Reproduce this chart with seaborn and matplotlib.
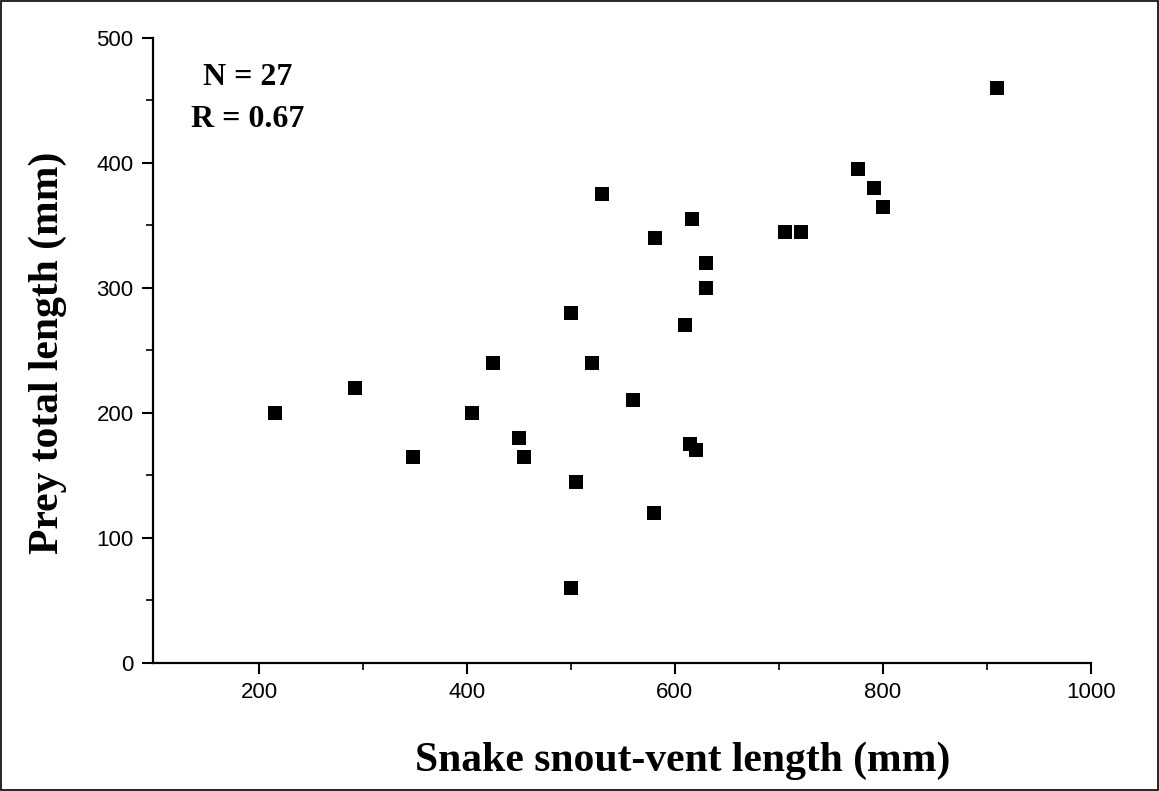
import pandas as pd
import matplotlib.pyplot as plt
import seaborn as sns
from matplotlib.patches import Rectangle
from matplotlib.ticker import MultipleLocator, FixedLocator

# snake body length vs prey length
snake_svl = [215, 292, 348, 405, 425, 450, 455, 500, 500, 505, 520, 530, 560, 580,
             581, 610, 615, 617, 620, 630, 630, 706, 721, 776, 792, 800, 910]
prey_len = [200, 220, 165, 200, 240, 180, 165, 280, 60, 145, 240, 375, 210, 120,
            340, 270, 175, 355, 170, 320, 300, 345, 345, 395, 380, 365, 460]

df = pd.DataFrame({'svl': snake_svl, 'prey': prey_len})

sns.set_style('ticks', {'axes.edgecolor': 'black', 'xtick.color': 'black',
                        'ytick.color': 'black', 'text.color': 'black',
                        'axes.labelcolor': 'black'})
plt.rcParams['font.family'] = ['Liberation Sans', 'DejaVu Sans']

fig = plt.figure(figsize=(11.59, 7.91), dpi=100)
ax = fig.add_axes([0.132, 0.162, 0.809, 0.790])

sns.scatterplot(x='svl', y='prey', data=df, marker='s', s=110, color='black',
                linewidth=0, ax=ax)

ax.set_xlim(98, 1000)
ax.set_ylim(0, 500)
ax.xaxis.set_major_locator(MultipleLocator(200))
ax.xaxis.set_minor_locator(FixedLocator([300, 500, 700, 900]))
ax.yaxis.set_major_locator(MultipleLocator(100))
ax.yaxis.set_minor_locator(MultipleLocator(50))
ax.tick_params(which='major', direction='out', length=8, width=1.5, labelsize=16,
               pad=6, colors='black')
ax.tick_params(which='minor', direction='out', length=5, width=1.2, colors='black')
for side in ['left', 'bottom']:
    ax.spines[side].set_linewidth(1.6)
sns.despine(ax=ax)

serif_bold = dict(family=['Liberation Serif'], fontweight='bold', color='black')
ax.set_xlabel('Snake snout-vent length (mm)', fontsize=30, va='center', **serif_bold)
ax.xaxis.set_label_coords(0.565, -0.157)
ax.set_ylabel('Prey total length (mm)', fontsize=30, va='center', **serif_bold)
ax.yaxis.set_label_coords(-0.112, 0.496)

ax.text(0.101, 0.936, 'N = 27', transform=ax.transAxes, ha='center', va='center',
        fontsize=23, **serif_bold)
ax.text(0.101, 0.870, 'R = 0.67', transform=ax.transAxes, ha='center', va='center',
        fontsize=23, **serif_bold)

# thin border around the whole picture
fig.patches.append(Rectangle((0.001, 0.001), 0.998, 0.998, transform=fig.transFigure,
                             fill=False, edgecolor='black', linewidth=1.2))

fig.savefig('out.png', dpi=100)
